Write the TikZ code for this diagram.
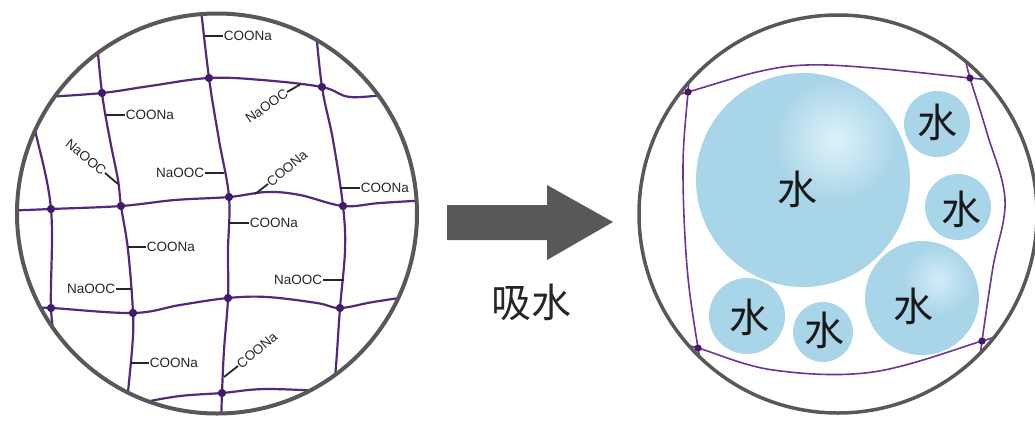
\documentclass[tikz,border=0pt]{standalone}
\usepackage{fontspec}
\setmainfont{Liberation Sans}
\newfontfamily\cjk{Noto Sans CJK SC}
\definecolor{rimgray}{RGB}{88,88,88}
\definecolor{netpurple}{RGB}{84,40,124}
\definecolor{dotpurple}{RGB}{70,24,108}
\definecolor{gelpurple}{RGB}{108,52,150}
\definecolor{waterblue}{RGB}{168,213,232}
\definecolor{waterlight}{RGB}{222,242,250}
\definecolor{arrowgray}{RGB}{88,88,88}
\begin{document}
\begin{tikzpicture}[x=1pt,y=-1pt,
  rim/.style={draw=rimgray, line width=4pt},
  net/.style={draw=netpurple, line width=2.2pt, line join=round},
  gel/.style={draw=gelpurple, line width=1.6pt, line join=round},
  dot/.style={circle, fill=dotpurple, inner sep=0pt, minimum size=8pt},
  smalldot/.style={circle, fill=dotpurple, inner sep=0pt, minimum size=7pt},
  stub/.style={draw=black!85, line width=1.8pt},
  lab/.style={font=\fontsize{13.5}{14}\selectfont, text=black!85, inner sep=0.6pt},
  water/.style={circle, fill=waterblue, inner sep=0pt},
  wtext/.style={font=\cjk\fontsize{40}{40}\selectfont, text=black!90, inner sep=0pt}]
\useasboundingbox (0,0) rectangle (1035,421);

% ---------- dry network ----------
\node[dot] (r1a) at (102,93) {};
\node[dot] (r1b) at (209,78) {};
\node[dot] (r1c) at (322,87) {};
\node[dot] (r2a) at (51,209) {};
\node[dot] (r2b) at (121,206) {};
\node[dot] (r2c) at (229,197) {};
\node[dot] (r2d) at (343,206) {};
\node[dot] (r3a) at (51,308) {};
\node[dot] (r3b) at (133,313) {};
\node[dot] (r3c) at (228,298) {};
\node[dot] (r3d) at (340,308) {};
\node[dot] (r4a) at (222,393) {};

\begin{scope}
  \clip (217,213.5) circle (200);
  % horizontal chains
  \draw[net] plot[smooth, tension=0.6] coordinates {(45,97) (r1a.center) (150,86) (r1b.center) (262,80) (r1c.center) (350,97) (390,94)};
  \draw[net] plot[smooth, tension=0.6] coordinates {(0,211) (r2a.center) (r2b.center) (175,200) (r2c.center) (267,192) (300,195) (r2d.center) (380,203) (430,200)};
  \draw[net] plot[smooth, tension=0.6] coordinates {(25,308) (r3a.center) (r3b.center) (180,305) (r3c.center) (267,297) (317,303) (r3d.center) (373,302) (420,295)};
  \draw[net] plot[smooth, tension=0.6] coordinates {(110,410) (140,403) (180,396) (r4a.center) (267,389) (340,392)};
  % vertical chains
  \draw[net] plot[smooth, tension=0.6] coordinates {(28,100) (35,130) (r2a.center) (r3a.center) (57,350)};
  \draw[net] plot[smooth, tension=0.6] coordinates {(96,30) (r1a.center) (110,140) (118,180) (r2b.center) (128,250) (r3b.center) (132,350) (125,420)};
  \draw[net] plot[smooth, tension=0.6] coordinates {(200,0) (r1b.center) (219,140) (r2c.center) (228,250) (r3c.center) (224,350) (r4a.center) (221,425)};
  \draw[net] plot[smooth, tension=0.6] coordinates {(315,20) (r1c.center) (333,140) (r2d.center) (345,250) (r3d.center) (335,377) (330,400)};
\end{scope}
\foreach \n in {r1a,r1b,r1c,r2a,r2b,r2c,r2d,r3a,r3b,r3c,r3d,r4a}
  \node[dot] at (\n.center) {};

% carboxylate groups
\node[lab, anchor=west] (l1) at (223,36) {COONa};
\draw[stub] (205,36) -- (l1.west);
\node[lab, anchor=west] (l2) at (125,115) {COONa};
\draw[stub] (106,115) -- (l2.west);
\node[lab, anchor=east, rotate=-40] (l3) at (105,173) {NaOOC};
\draw[stub] (118,184) -- (l3.east);
\node[lab, anchor=east] (l4) at (205,173) {NaOOC};
\draw[stub] (224,173) -- (l4.east);
\node[lab, anchor=east, rotate=35] (l5) at (287,92) {NaOOC};
\draw[stub] (301,84) -- (l5.east);
\node[lab, anchor=west, rotate=40] (l6) at (268,184) {COONa};
\draw[stub] (255,194) -- (l6.west);
\node[lab, anchor=west] (l7) at (360,188) {COONa};
\draw[stub] (340,188) -- (l7.west);
\node[lab, anchor=west] (l8) at (249,223) {COONa};
\draw[stub] (229,223) -- (l8.west);
\node[lab, anchor=east] (l9) at (323,280) {NaOOC};
\draw[stub] (344,280) -- (l9.east);
\node[lab, anchor=west, rotate=40] (l10) at (238,366) {COONa};
\draw[stub] (224,377) -- (l10.west);
\node[lab, anchor=west] (l11) at (146,247) {COONa};
\draw[stub] (128,247) -- (l11.west);
\node[lab, anchor=east] (l12) at (116,289) {NaOOC};
\draw[stub] (132,289) -- (l12.east);
\node[lab, anchor=west] (l13) at (149,363) {COONa};
\draw[stub] (131,363) -- (l13.west);

\node[circle, rim, minimum size=400pt, inner sep=0pt] (dry) at (217,213.5) {};

% ---------- swelling arrow ----------
\fill[arrowgray] (447,205) -- (547,205) -- (547,185) -- (613,222) -- (547,260) -- (547,240) -- (447,240) -- cycle;
\node[wtext, text=black!85] (absorb) at (531,302) {吸水};

% ---------- swollen gel ----------
\node[water, minimum size=214pt] (w1) at (803,180) {};
\node[water, minimum size=114pt] (w2) at (922,298) {};
\node[water, minimum size=66pt]  (w3) at (937,124) {};
\node[water, minimum size=66pt]  (w4) at (958,207) {};
\node[water, minimum size=76pt]  (w5) at (747,316) {};
\node[water, minimum size=60pt]  (w6) at (823,332) {};
\begin{scope}
  \clip (w1.center) circle (107);
  \shade[inner color=waterlight, outer color=waterblue] (835,140) circle (62);
\end{scope}
\begin{scope}
  \clip (w2.center) circle (57);
  \shade[inner color=waterlight!80!waterblue, outer color=waterblue] (938,280) circle (36);
\end{scope}
\node[wtext] (t1) at (797,189) {水};
\node[wtext] (t2) at (913,306) {水};
\node[wtext] (t3) at (937,122) {水};
\node[wtext] (t4) at (961,209) {水};
\node[wtext] (t5) at (749,317) {水};
\node[wtext] (t6) at (824,330) {水};

\node[smalldot] (tl) at (688,92) {};
\node[smalldot] (tr) at (970,78) {};
\node[smalldot] (bl) at (698,348) {};
\node[smalldot] (br) at (982,341) {};
\begin{scope}
  \clip (838,214) circle (198);
  \draw[gel] plot[smooth, tension=0.6] coordinates {(668,97) (tl.center) (757,72) (807,65) (873,68) (tr.center) (995,80)};
  \draw[gel] plot[smooth, tension=0.6] coordinates {(676,343) (bl.center) (773,370) (873,372) (br.center) (1002,334)};
  \draw[gel] plot[smooth, tension=0.6] coordinates {(690,72) (tl.center) (683,167) (687,267) (bl.center) (703,368)};
  \draw[gel] plot[smooth, tension=0.6] coordinates {(965,58) (tr.center) (987,133) (1005,200) (993,267) (br.center) (980,362)};
\end{scope}
\foreach \n in {tl,tr,bl,br}
  \node[smalldot] at (\n.center) {};

\node[circle, rim, line width=3.5pt, minimum size=398pt, inner sep=0pt] (wet) at (838,214) {};
\end{tikzpicture}
\end{document}
